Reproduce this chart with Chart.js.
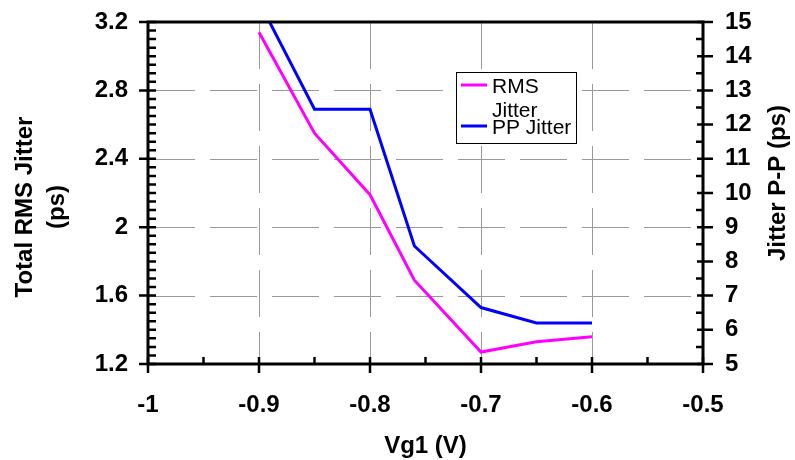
<!DOCTYPE html>
<html>
<head>
<meta charset="utf-8">
<script src="https://cdn.jsdelivr.net/npm/chart.js@4/dist/chart.umd.min.js"></script>
<style>
  html, body { margin: 0; padding: 0; background: #fff; }
  #wrap { width: 795px; height: 460px; position: relative; }
</style>
</head>
<body>
<div id="wrap"><canvas id="c" width="795" height="460"></canvas></div>
<script>
// ---- data ----
const vg1 = [-0.9, -0.85, -0.8, -0.76, -0.7, -0.65, -0.6];
const rmsJitter = [3.14, 2.55, 2.19, 1.69, 1.27, 1.33, 1.36];
const ppJitter = [15.6, 12.45, 12.45, 8.45, 6.65, 6.2, 6.2];
const xTickLabels = [-1, -0.9, -0.8, -0.7, -0.6, -0.5];
const yLeftTickLabels = [1.2, 1.6, 2, 2.4, 2.8, 3.2];
const yRightTickLabels = [5, 6, 7, 8, 9, 10, 11, 12, 13, 14, 15];
const seriesNames = ['RMS Jitter', 'PP Jitter'];
const xTitle = 'Vg1 (V)';
const yLeftTitle = ['Total RMS Jitter', '(ps)'];
const yRightTitle = 'Jitter P-P (ps)';

const FONT = '"Liberation Sans", Arial, sans-serif';

function setTicks(arr) {
  return function (scale) { scale.ticks = arr.map(v => ({ value: v })); };
}

// manual dashed segment drawing
function dashedLine(ctx, x1, y1, x2, y2, on, off) {
  const len = Math.hypot(x2 - x1, y2 - y1);
  const ux = (x2 - x1) / len, uy = (y2 - y1) / len;
  let d = 0;
  ctx.beginPath();
  while (d < len) {
    const e = Math.min(d + on, len);
    ctx.moveTo(x1 + ux * d, y1 + uy * d);
    ctx.lineTo(x1 + ux * e, y1 + uy * e);
    d = e + off;
  }
  ctx.stroke();
}

const gridPlugin = {
  id: 'dashGrid',
  beforeDatasetsDraw(chart) {
    const { ctx, chartArea: a, scales } = chart;
    ctx.save();
    ctx.strokeStyle = '#999';
    ctx.lineWidth = 1;
    scales.y.ticks.forEach(t => {
      const p = Math.round(scales.y.getPixelForValue(t.value)) + 0.5;
      if (p <= a.top + 2 || p >= a.bottom - 2) return;
      dashedLine(ctx, a.left, p, a.right, p, 47, 15);
    });
    scales.x.ticks.forEach(t => {
      const p = Math.round(scales.x.getPixelForValue(t.value)) + 0.5;
      if (p <= a.left + 2 || p >= a.right - 2) return;
      dashedLine(ctx, p, a.top, p, a.bottom, 47, 15);
    });
    ctx.restore();
  }
};

const framePlugin = {
  id: 'frame',
  afterDatasetsDraw(chart) {
    const { ctx, chartArea: a, scales } = chart;
    ctx.save();
    ctx.strokeStyle = '#000';
    ctx.lineCap = 'butt';
    ctx.lineWidth = 2.5;
    ctx.beginPath();
    const yl = scales.y;
    for (let i = 0; i <= 40; i++) {
      const v = 1.2 + i * 0.05;
      const p = yl.getPixelForValue(v);
      if (i % 8 === 0) { ctx.moveTo(a.left - 9, p); ctx.lineTo(a.left + 8, p); }
      else { ctx.moveTo(a.left, p); ctx.lineTo(a.left + 8, p); }
    }
    const yr = scales.y2;
    for (let i = 0; i <= 20; i++) {
      const v = 5 + i * 0.5;
      const p = yr.getPixelForValue(v);
      if (i % 2 === 0) { ctx.moveTo(a.right - 6, p); ctx.lineTo(a.right + 10, p); }
      else { ctx.moveTo(a.right - 7, p); ctx.lineTo(a.right, p); }
    }
    const xs = scales.x;
    for (let i = 0; i <= 10; i++) {
      const v = -1 + i * 0.05;
      const p = xs.getPixelForValue(v);
      if (i % 2 === 0) { ctx.moveTo(p, a.bottom - 7); ctx.lineTo(p, a.bottom + 9); }
      else { ctx.moveTo(p, a.bottom - 7); ctx.lineTo(p, a.bottom); }
    }
    ctx.stroke();
    ctx.lineWidth = 3;
    ctx.strokeRect(a.left, a.top, a.right - a.left, a.bottom - a.top);
    ctx.restore();
  },
  afterDraw(chart) {
    const { ctx, chartArea: a } = chart;
    ctx.save();
    ctx.fillStyle = '#000';
    ctx.textAlign = 'center';
    ctx.textBaseline = 'middle';
    ctx.font = 'bold 24px ' + FONT;
    ctx.fillText(xTitle, (a.left + a.right) / 2, 446);
    ctx.save();
    ctx.translate(25, 207);
    ctx.rotate(-Math.PI / 2);
    ctx.fillText(yLeftTitle[0], 0, 0);
    ctx.fillText(yLeftTitle[1], 0, 32);
    ctx.restore();
    ctx.save();
    ctx.translate(778, 183);
    ctx.rotate(-Math.PI / 2);
    ctx.fillText(yRightTitle, 0, 0);
    ctx.restore();

    // legend
    const bx = 456, by = 72, bw = 120, bh = 71;
    ctx.fillStyle = '#fff';
    ctx.fillRect(bx, by, bw, bh);
    ctx.strokeStyle = '#000';
    ctx.lineWidth = 1;
    ctx.strokeRect(bx + 0.5, by + 0.5, bw, bh);
    ctx.font = '21px ' + FONT;
    ctx.textAlign = 'left';
    ctx.textBaseline = 'alphabetic';
    let sy = by + 13;
    chart.data.datasets.forEach(ds => {
      const words = ds.label.split(' ');
      const lines = [];
      let cur = '';
      words.forEach(w => {
        const t = cur ? cur + ' ' + w : w;
        if (cur && ctx.measureText(t).width > 81) { lines.push(cur); cur = w; }
        else cur = t;
      });
      if (cur) lines.push(cur);
      ctx.strokeStyle = ds.borderColor;
      ctx.lineWidth = 3;
      ctx.beginPath();
      ctx.moveTo(bx + 5, sy); ctx.lineTo(bx + 31, sy);
      ctx.stroke();
      ctx.fillStyle = '#000';
      lines.forEach((l, k) => ctx.fillText(l, bx + 36, sy + 7.5 + k * 24));
      sy += 17 + 24 * (lines.length - 1);
    });
    ctx.restore();
  }
};

function fitY(width) {
  return s => { s.width = width; s.paddingTop = 0; s.paddingBottom = 0; };
}

const chart = new Chart(document.getElementById('c'), {
  type: 'line',
  data: {
    datasets: [
      {
        label: seriesNames[0],
        data: vg1.map((x, i) => ({ x: x, y: rmsJitter[i] })),
        borderColor: '#FF00FF',
        backgroundColor: '#FF00FF',
        borderWidth: 3,
        pointRadius: 0,
        tension: 0,
        yAxisID: 'y'
      },
      {
        label: seriesNames[1],
        data: vg1.map((x, i) => ({ x: x, y: ppJitter[i] })),
        borderColor: '#0000FF',
        backgroundColor: '#0000FF',
        borderWidth: 3,
        pointRadius: 0,
        tension: 0,
        yAxisID: 'y2'
      }
    ]
  },
  options: {
    responsive: false,
    devicePixelRatio: 1,
    animation: false,
    layout: { padding: { top: 22, left: 0, right: 0, bottom: 0 } },
    plugins: { legend: { display: false }, tooltip: { enabled: false } },
    scales: {
      x: {
        type: 'linear',
        min: -1, max: -0.5,
        afterBuildTicks: setTicks(xTickLabels),
        afterFit: s => { s.height = 96; s.paddingLeft = 0; s.paddingRight = 0; },
        ticks: {
          color: '#000', font: { family: FONT, size: 24, weight: 'bold' },
          padding: 27, maxRotation: 0, autoSkip: false,
          callback: v => String(Math.round(v * 100) / 100)
        },
        grid: { display: false, drawTicks: false },
        border: { display: false }
      },
      y: {
        type: 'linear', position: 'left',
        min: 1.2, max: 3.2,
        afterBuildTicks: setTicks(yLeftTickLabels),
        afterFit: fitY(148),
        ticks: {
          color: '#000', font: { family: FONT, size: 24, weight: 'bold' },
          padding: 20, autoSkip: false,
          callback: v => String(Math.round(v * 100) / 100)
        },
        grid: { display: false, drawTicks: false },
        border: { display: false }
      },
      y2: {
        type: 'linear', position: 'right',
        min: 5, max: 15,
        afterBuildTicks: setTicks(yRightTickLabels),
        afterFit: fitY(92),
        ticks: {
          color: '#000', font: { family: FONT, size: 24, weight: 'bold' },
          padding: 22, autoSkip: false,
          callback: v => String(v)
        },
        grid: { display: false, drawTicks: false },
        border: { display: false }
      }
    }
  },
  plugins: [gridPlugin, framePlugin]
});
</script>
</body>
</html>
